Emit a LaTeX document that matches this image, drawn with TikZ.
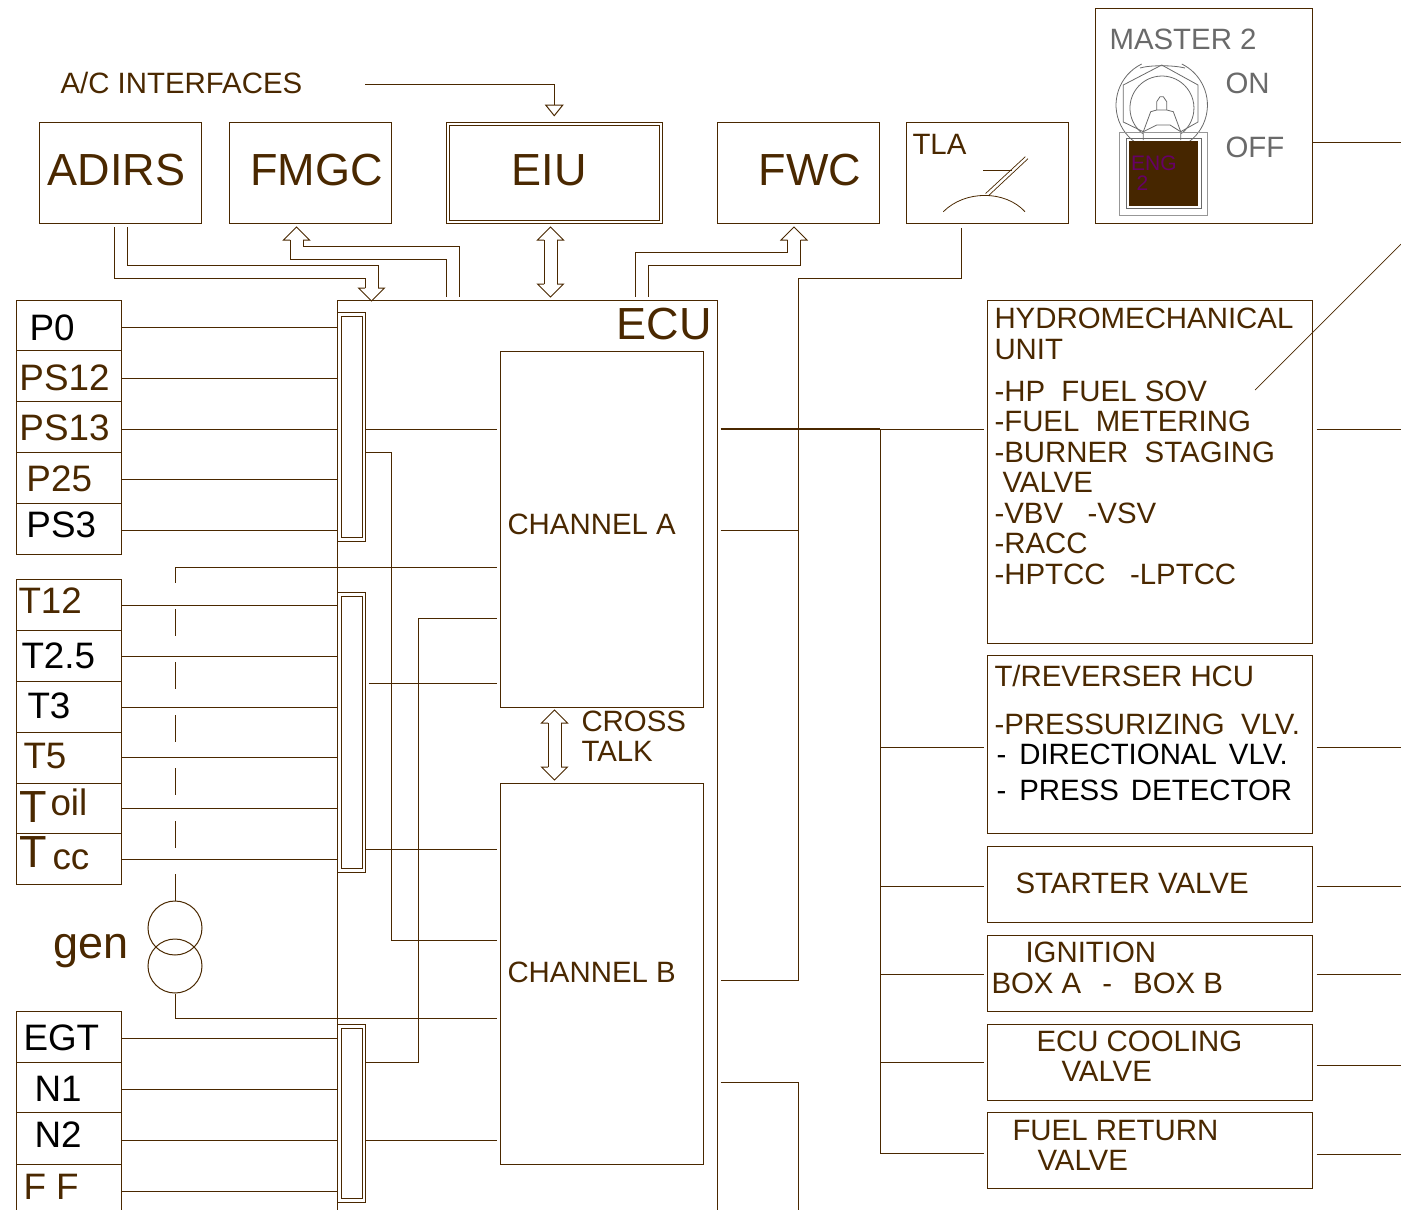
\documentclass[tikz,border=0pt]{standalone}
\usepackage{fontspec}
\setmainfont{Liberation Sans}
\usetikzlibrary{arrows.meta,fit}
\definecolor{inkbrown}{HTML}{4A2800}
\definecolor{panelgrey}{HTML}{6A6A6A}
\definecolor{lamppurple}{HTML}{660066}
\newcommand{\pipehead}[3]{\draw[wire] ({#1-6.5},#2) -- ({#1-13},#2) -- (#1,{#2+#3*13}) -- ({#1+13},#2) -- ({#1+6.5},#2);}
\begin{document}
\begin{tikzpicture}[x=1pt, y=-1pt, line width=1pt,
    wire/.style={draw=inkbrown, line width=1pt},
    frame/.style={draw=inkbrown, line width=1pt, inner sep=0pt},
    switchline/.style={draw=panelgrey, line width=.8pt},
    bigtext/.style={font=\fontsize{45}{45}\selectfont, anchor=base west, inner sep=0pt, text=inkbrown},
    midtext/.style={font=\fontsize{36.8}{37}\selectfont, anchor=base west, inner sep=0pt, text=inkbrown},
    smalltext/.style={font=\fontsize{29.4}{30}\selectfont, anchor=base west, inner sep=0pt, text=inkbrown}]
    \useasboundingbox (0,0) rectangle (1401,1210);
    \clip (0,0) rectangle (1401,1210);
    \coordinate (edge) at (1401,0);
    \coordinate (trunk) at (880,429);
    \coordinate (acstart) at (365,84);
    \coordinate (sovtap) at (1255,390);
    \coordinate (diagend) at (1401,244);
    % top row
    \node[frame,fit={(39,122) (201.5,223.5)}] (adirs) {};
    \node[frame,fit={(229,122) (391.5,223.5)}] (fmgc) {};
    \node[frame,fit={(446,122) (662.5,223.5)}] (eiu) {};
    \node[frame,fit={(449,125) (659.5,220.5)}] (eiuin) {};
    \node[frame,fit={(717,122) (879.5,223.5)}] (fwc) {};
    \node[frame,fit={(906,122) (1068.5,223.5)}] (tla) {};
    \node[frame,fit={(1095,8) (1312,223.5)}] (master) {};
    % engine control unit
    \node[frame,fit={(337,300) (717,1260)}] (ecu) {};
    \node[frame,fit={(500,351) (703,707)}] (channela) {};
    \node[frame,fit={(500,783) (703,1164)}] (channelb) {};
    \foreach \nm/\ya/\yb in {bus1/312/541,bus2/592/872,bus3/1024/1202} {
      \node[frame,fit={(337.5,\ya) (365,\yb)}] (\nm) {};
      \node[frame,fit={(341,{\ya+4}) (362,{\yb-4})}] (\nm in) {};
    }
    % sensors
    \foreach \nm/\ya/\yb/\wy/\bus in {p0/300/350/327/bus1,ps12/350/401/378/bus1,ps13/401/452/429/bus1,p25/452/503/479/bus1,ps3/503/554/530/bus1,
      t12/579/630/605/bus2,t25/630/681/656/bus2,t3/681/732/707/bus2,t5/732/783/757/bus2,toil/783/833/808/bus2,tcc/833/884/859/bus2,
      egt/1011/1062/1038/bus3,n1/1062/1112/1089/bus3,n2/1112/1164/1140/bus3,ff/1164/1260/1191/bus3} {
      \node[frame,fit={(16,\ya) (121,\yb)}] (\nm) {};
      \draw[wire] (\nm.east |- 0,\wy) -- (\bus.west |- 0,\wy);
    }
    % right column
    \node[frame,fit={(987,300) (1312,643)}] (hmu) {};
    \node[frame,fit={(987,655) (1312,833)}] (trv) {};
    \node[frame,fit={(987,846) (1312,922)}] (starter) {};
    \node[frame,fit={(987,935) (1312,1011)}] (ignition) {};
    \node[frame,fit={(987,1024) (1312,1100)}] (cooling) {};
    \node[frame,fit={(987,1112) (1312,1188)}] (fuelvalve) {};
    % wires into the channels
    \foreach \from/\to/\y in {bus1/channela/429,bus2/channelb/849,bus3/channelb/1140} {
      \draw[wire,shorten >=3pt] (\from.east |- 0,\y) -- (\to.west |- 0,\y);
    }
    \draw[wire,shorten <=3pt,shorten >=3pt] (bus2.east |- 0,683) -- (channela.west |- 0,683);
    \draw[wire,shorten >=3pt] (bus1.east |- 0,452) -- (391,452) -- (391,940) -- (channelb.west |- 0,940);
    \draw[wire,shorten >=3pt] (bus3.east |- 0,1062) -- (418,1062) -- (418,618) -- (channela.west |- 0,618);
    % generator
    \node[draw=inkbrown,circle,minimum size=54pt,inner sep=0pt] (gentop) at (175,928) {};
    \node[draw=inkbrown,circle,minimum size=54pt,inner sep=0pt] (genbot) at (175,966) {};
    \draw[wire,shorten >=3pt] (175,567) -- (channela.west |- 0,567);
    \draw[wire,dash pattern=on 27pt off 26pt] (gentop.north) -- (175,567);
    \draw[wire,shorten >=3pt] (genbot.south) -- (175,1018) -- (channelb.west |- 0,1018);
    % outputs
    \draw[wire,shorten <=3pt,line width=1.3pt] (ecu.east |- 0,429) -- (trunk);
    \draw[wire,shorten >=3pt] (trunk) -- (hmu.west |- 0,429);
    \draw[wire,shorten >=3pt] (trunk) -- (880,1153) -- (fuelvalve.west |- 0,1153);
    \foreach \nm/\y in {trv/747,starter/886,ignition/974,cooling/1062} {
      \draw[wire,shorten >=3pt] (trunk |- 0,\y) -- (\nm.west |- 0,\y);
    }
    \foreach \nm/\y in {hmu/429,trv/747,starter/886,ignition/974,cooling/1065,fuelvalve/1154} {
      \draw[wire,shorten <=4pt] (\nm.east |- 0,\y) -- (edge |- 0,\y);
    }
    \draw[wire,shorten <=3pt] (ecu.east |- 0,530) -- (798,530);
    \draw[wire,shorten <=4pt,shorten >=3pt] (tla.south -| 961,0) -- (961,278) -- (798,278) -- (798,980) -- (ecu.east |- 0,980);
    \draw[wire,shorten <=3pt] (ecu.east |- 0,1082) -- (798,1082) -- (798,1210);
    \draw[wire] (master.east |- 0,142) -- (edge |- 0,142);
    \draw[wire,line width=.7pt] (sovtap) -- (diagend);
    \draw[wire,-{Triangle[open,length=12pt,width=19pt]}] (acstart) -| ([yshift=5pt]eiu.north);
    % double pipes
    \draw[wire,shorten <=3pt] (adirs.south -| 114,0) -- (114,278) -- (365,278) -- (365,288);
    \draw[wire,shorten <=3pt] (adirs.south -| 127.5,0) -- (127.5,265) -- (378,265) -- (378,288);
    \pipehead{371.5}{288}{1}
    \draw[wire,shorten <=3pt] (ecu.north -| 446,0) -- (446,259) -- (290,259) -- (290,240);
    \draw[wire,shorten <=3pt] (ecu.north -| 459,0) -- (459,246) -- (303,246) -- (303,240);
    \pipehead{296.5}{240}{-1}
    \draw[wire] (544,240) -- (544,284);
    \draw[wire] (557,240) -- (557,284);
    \pipehead{550.5}{240}{-1}
    \pipehead{550.5}{284}{1}
    \draw[wire,shorten <=3pt] (ecu.north -| 635,0) -- (635,252.5) -- (787.5,252.5) -- (787.5,240);
    \draw[wire,shorten <=3pt] (ecu.north -| 648.5,0) -- (648.5,265) -- (800.5,265) -- (800.5,240);
    \pipehead{794}{240}{-1}
    \draw[wire] (548,723) -- (548,767);
    \draw[wire] (561,723) -- (561,767);
    \pipehead{554.5}{723}{-1}
    \pipehead{554.5}{767}{1}
    % labels
    \foreach \nm/\x/\y/\txt in {adirslabel/47/185/ADIRS,fmgclabel/250/185/FMGC,eiulabel/511/185/EIU,fwclabel/758/185/FWC,eculabel/616/339/ECU,genlabel/53/958/gen} {
      \node[bigtext] (\nm) at (\x,\y) {\txt};
    }
    \foreach \nm/\x/\y/\col/\txt in {p0label/29/340/black/P0,ps12label/19/390/inkbrown/PS12,ps13label/19/440/inkbrown/PS13,p25label/26/491/inkbrown/P25,ps3label/26/537/black/PS3,
      t12label/18/613/inkbrown/T12,t25label/21/668/black/T2.5,t3label/27/718/black/T3,t5label/23/768/inkbrown/T5,oillabel/50/815/inkbrown/oil,cclabel/52/869/inkbrown/cc,
      egtlabel/23/1050/black/EGT,n1label/34/1101/black/N1,n2label/34/1147/black/N2,fflabel/23/1199/inkbrown/F F} {
      \node[midtext,text=\col] (\nm) at (\x,\y) {\txt};
    }
    \node[midtext,font=\fontsize{45}{45}\selectfont] (toillabel) at (19,822) {T};
    \node[midtext,font=\fontsize{45}{45}\selectfont] (tcclabel) at (19,867) {T};
    \node[smalltext] (aclabel) at (60,93) {A/C INTERFACES};
    \node[smalltext] (reverserlabel) at (994,686) {T/REVERSER HCU};
    \foreach \nm/\x/\y/\txt in {tlalabel/912/154/TLA,chalabel/507/534/CHANNEL A,chblabel/507/982/CHANNEL B,crosslabel/581/731/CROSS,talklabel/581/761/TALK,
      hmulabela/994/328/HYDROMECHANICAL,hmulabelb/994/359/UNIT,hmulabelc/994/401/-HP\ \ FUEL SOV,hmulabeld/994/431/-FUEL\ \ METERING,hmulabele/994/462/-BURNER\ \ STAGING,
      hmulabelf/1002/492/VALVE,hmulabelg/994/523/-VBV\ \ \ -VSV,hmulabelh/994/553/-RACC,hmulabeli/994/584/-HPTCC\ \ \ -LPTCC,
      pressurizing/994/734/-PRESSURIZING\ \ VLV.,starterlabel/1015/893/STARTER VALVE,ignitionlabel/1025/962/IGNITION,boxlabel/991/993/BOX A\hspace{21pt}-\hspace{21pt}BOX B,
      coolinglabel/1036/1051/ECU COOLING,coolingvalve/1061/1081/VALVE,fuellabel/1012/1140/FUEL RETURN,fuelvalvelabel/1037/1170/VALVE} {
      \node[smalltext] (\nm) at (\x,\y) {\txt};
    }
    \node[smalltext,text=black] (directional) at (996,764) {-\hspace{13pt}DIRECTIONAL\hspace{12pt}VLV.};
    \node[smalltext,text=black] (pressdetector) at (996,800) {-\hspace{13pt}PRESS\hspace{12pt}DETECTOR};
    % throttle lever gauge
    \draw[wire,line width=.8pt] (943.3,211.7) .. controls (965,190) and (1005,190) .. (1025,211.7);
    \draw[wire,line width=.7pt] (985.6,193.5) -- (1025.3,156.7);
    \draw[wire,line width=.7pt] (989,195.2) -- (1028,158.7);
    \draw[wire,line width=.8pt] (983.3,170) -- (1011.7,170);
    % master switch
    \foreach \nm/\x/\y/\txt in {masterlabel/1109/49/MASTER 2,onlabel/1225/93/ON,offlabel/1225/157/OFF} {
      \node[smalltext,text=panelgrey] (\nm) at (\x,\y) {\txt};
    }
    \draw[switchline] (1141.7,64) arc[start angle=116,end angle=424,radius=45.7pt];
    \draw[switchline] (1142.7,133.6) arc[start angle=233,end angle=-53,radius=32pt];
    \draw[switchline] (1140,68) .. controls (1150,65) and (1173,65) .. (1185,68);
    \draw[switchline] (1143.3,131.7) -- (1123.3,122) -- (1123.3,85) -- (1161.7,65) -- (1198,85) -- (1198,122) -- (1180.7,131.7);
    \draw[switchline] (1143.3,140) -- (1143.3,131.7) -- (1150.7,111.7) -- (1156.7,110) -- (1166.7,110) -- (1173.3,111.7) -- (1180.7,131.7) -- (1180.7,140);
    \draw[switchline] (1156.7,110) -- (1156.7,101.7) -- (1160,96.7) -- (1163.3,96.7) -- (1166.7,101.7) -- (1166.7,110);
    \draw[switchline] (1143.3,131.7) -- (1156.7,125) -- (1170,125) -- (1180.7,131.7);
    \node[switchline,draw=panelgrey!70,inner sep=0pt,fit={(1119.3,132.3) (1207.7,215)}] (switchguard) {};
    \node[switchline,inner sep=0pt,fit={(1126,138.3) (1201,208.7)}] (switchframe) {};
    \node[fill=inkbrown!95!black,inner sep=0pt,fit={(1129.3,141.3) (1198.3,205.7)}] (switchlamp) {};
    \node[anchor=base west,inner sep=0pt,text=lamppurple,font=\fontsize{21}{21}\selectfont] (englabel) at (1130.7,170) {ENG};
    \node[anchor=base west,inner sep=0pt,text=lamppurple,font=\fontsize{21}{21}\selectfont] (englabelb) at (1136,190) {2};
\end{tikzpicture}
\end{document}
